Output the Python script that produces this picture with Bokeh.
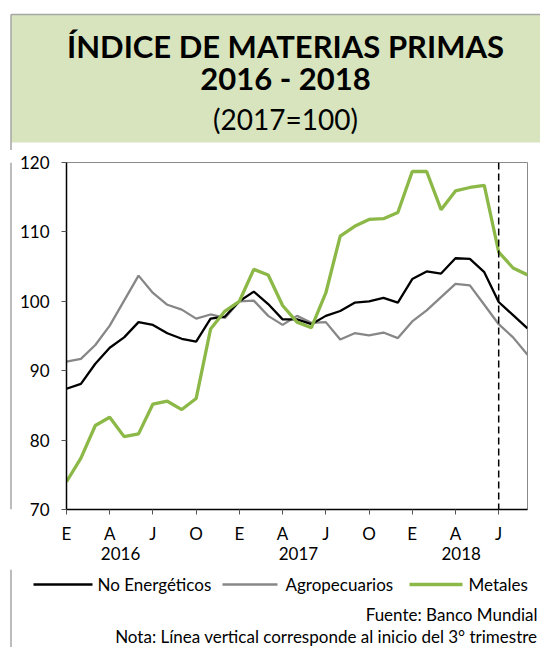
from bokeh.plotting import figure
from bokeh.models import Range1d, FixedTicker, LinearAxis, Span
from bokeh.layouts import column, row
from bokeh.embed import file_html
from bokeh.resources import INLINE
from bokeh.core.properties import value

# ---------------- data ----------------
title_lines = ["ÍNDICE DE MATERIAS PRIMAS", "2016 - 2018", "(2017=100)"]
month_tick_labels = ["E", "A", "J", "O"]
year_labels = ["2016", "2017", "2018"]
series_names = ["No Energéticos", "Agropecuarios", "Metales"]
y_ticks = [70, 80, 90, 100, 110, 120]

no_energeticos = [87.4, 88.1, 91.0, 93.3, 94.8, 97.0, 96.6, 95.4, 94.6, 94.2,
                  97.5, 97.8, 100.0, 101.4, 99.6, 97.4, 97.4, 96.7, 97.9, 98.6,
                  99.8, 100.0, 100.5, 99.8, 103.2, 104.3, 104.0, 106.2, 106.1,
                  104.2, 99.9, 98.0, 96.1]
agropecuarios = [91.3, 91.7, 93.7, 96.5, 100.1, 103.7, 101.2, 99.5, 98.8, 97.5,
                 98.1, 97.6, 100.0, 100.1, 97.9, 96.6, 97.9, 96.9, 97.0, 94.5,
                 95.4, 95.1, 95.5, 94.7, 97.1, 98.7, 100.6, 102.5, 102.3, 99.5,
                 96.7, 94.8, 92.3]
metales = [74.0, 77.4, 82.1, 83.3, 80.5, 80.9, 85.2, 85.6, 84.4, 86.0,
           96.0, 98.6, 100.0, 104.6, 103.8, 99.4, 97.0, 96.2, 101.2, 109.4,
           110.8, 111.8, 111.9, 112.8, 118.7, 118.7, 113.2, 115.9, 116.4, 116.7,
           107.1, 104.8, 103.8]
vline_month = 30  # julio 2018, inicio del 3er trimestre
notes = ["Fuente: Banco Mundial",
         "Nota: Línea vertical corresponde al inicio del 3° trimestre"]

# ---------------- style ----------------
FONT = value("Lato")
BORDER = "#a6a6a6"
C_BLACK = "#000000"
C_GRAY = "#878787"
C_GREEN = "#8cb847"
TITLE_BG = "#d7e4bd"

W = 540
STRIP = 16
H_TITLE, H_MAIN, H_BOT = 150, 419, 78
EDGE = 10.5

x = list(range(len(no_energeticos)))


def deco_fig(w, h):
    f = figure(width=w, height=h, x_range=Range1d(0, w), y_range=Range1d(h, 0),
               toolbar_location=None, output_backend="svg", min_border=0,
               x_axis_type=None, y_axis_type=None, outline_line_color=None,
               background_fill_color="white", border_fill_color="white")
    f.xgrid.visible = False
    f.ygrid.visible = False
    return f


# ---------------- title ----------------
pt = deco_fig(W, H_TITLE)
pt.quad(left=[EDGE], right=[800], top=[14], bottom=[142], fill_color=TITLE_BG, line_color=None)
pt.segment(x0=[EDGE], y0=[14], x1=[800], y1=[14], line_color=BORDER, line_width=1.5)
pt.segment(x0=[EDGE], y0=[14], x1=[EDGE], y1=[H_TITLE], line_color=BORDER, line_width=1.5)
pt.text(x=[285, 285], y=[45, 77], text=title_lines[:2], text_font=FONT,
        text_font_style="bold", text_font_size="31px", text_align="center",
        text_baseline="middle", text_color="#000000")
pt.text(x=[285], y=[118], text=title_lines[2:], text_font=FONT,
        text_font_size="28px", text_align="center", text_baseline="middle",
        text_color="#000000")

# ---------------- strip (left border) ----------------
ps = deco_fig(STRIP, H_MAIN)
ps.segment(x0=[EDGE], y0=[0], x1=[EDGE], y1=[H_MAIN], line_color=BORDER, line_width=1.5)

# ---------------- main chart ----------------
p = figure(width=W - STRIP, height=H_MAIN, x_range=Range1d(0, len(x) - 1),
           y_range=Range1d(70, 120), toolbar_location=None, output_backend="svg",
           min_border_left=47, min_border_right=13, min_border_top=12,
           min_border_bottom=60, outline_line_color="#8a8a8a", outline_line_width=1,
           background_fill_color="white", border_fill_color="white")
p.xgrid.visible = False
p.ygrid.visible = False

p.line(x, agropecuarios, line_color=C_GRAY, line_width=2.3)
p.line(x, no_energeticos, line_color=C_BLACK, line_width=2.3)
p.line(x, metales, line_color=C_GREEN, line_width=3.3)

p.add_layout(Span(location=vline_month, dimension="height", line_color="#000000",
                  line_width=1.5, line_dash="7 4"))

# y axis
p.yaxis.ticker = FixedTicker(ticks=y_ticks)
p.yaxis.minor_tick_line_color = None
p.yaxis.major_tick_out = 5
p.yaxis.major_tick_in = 0
p.yaxis.axis_line_color = "#000000"
p.yaxis.axis_line_width = 1.5
p.yaxis.major_tick_line_color = "#555555"
p.yaxis.major_label_text_font = "Lato"
p.yaxis.major_label_text_font_size = "17px"
p.yaxis.major_label_text_color = "#000000"
p.yaxis.major_label_standoff = 12

# x axis (months)
quarter_ticks = list(range(0, len(x), 3))
p.xaxis.ticker = FixedTicker(ticks=quarter_ticks)
p.xaxis.major_label_overrides = {t: month_tick_labels[i % 4] for i, t in enumerate(quarter_ticks)}
p.xaxis.minor_tick_line_color = None
p.xaxis.major_tick_out = 5
p.xaxis.major_tick_in = 0
p.xaxis.axis_line_color = "#000000"
p.xaxis.axis_line_width = 1.5
p.xaxis.major_tick_line_color = "#555555"
p.xaxis.major_label_text_font = "Lato"
p.xaxis.major_label_text_font_size = "17px"
p.xaxis.major_label_text_color = "#000000"
p.xaxis.major_label_standoff = 8

# second x axis (years)
year_pos = [3.75, 16.1, 27.4]
yax = LinearAxis(ticker=FixedTicker(ticks=year_pos),
                 major_label_overrides={pos: lab for pos, lab in zip(year_pos, year_labels)},
                 major_tick_out=0, major_tick_in=0, minor_tick_line_color=None,
                 major_tick_line_color=None, axis_line_color=None,
                 major_label_standoff=0, major_label_text_font="Lato",
                 major_label_text_font_size="17px", major_label_text_color="#000000")
p.add_layout(yax, "below")

# ---------------- bottom (legend + notes) ----------------
pb = deco_fig(W, H_BOT)
pb.segment(x0=[EDGE], y0=[0], x1=[EDGE], y1=[H_BOT], line_color=BORDER, line_width=1.5)
leg_y = 15
pb.segment(x0=[33, 222, 409], y0=[leg_y] * 3, x1=[92, 277, 462], y1=[leg_y] * 3,
           line_color=[C_BLACK, C_GRAY, C_GREEN], line_width=[2.3, 2.3, 3.3])
pb.text(x=[97, 285, 468], y=[leg_y] * 3, text=series_names, text_font=FONT,
        text_font_size="17px", text_align="left", text_baseline="middle",
        text_color="#000000")
pb.text(x=[537, 537], y=[45, 67], text=notes, text_font=FONT,
        text_font_size="17px", text_align="right", text_baseline="middle",
        text_color="#000000")

layout = column(pt, row(ps, p), pb)

with open("out.html", "w", encoding="utf-8") as fh:
    fh.write(file_html(layout, INLINE, title="Índice de materias primas"))
